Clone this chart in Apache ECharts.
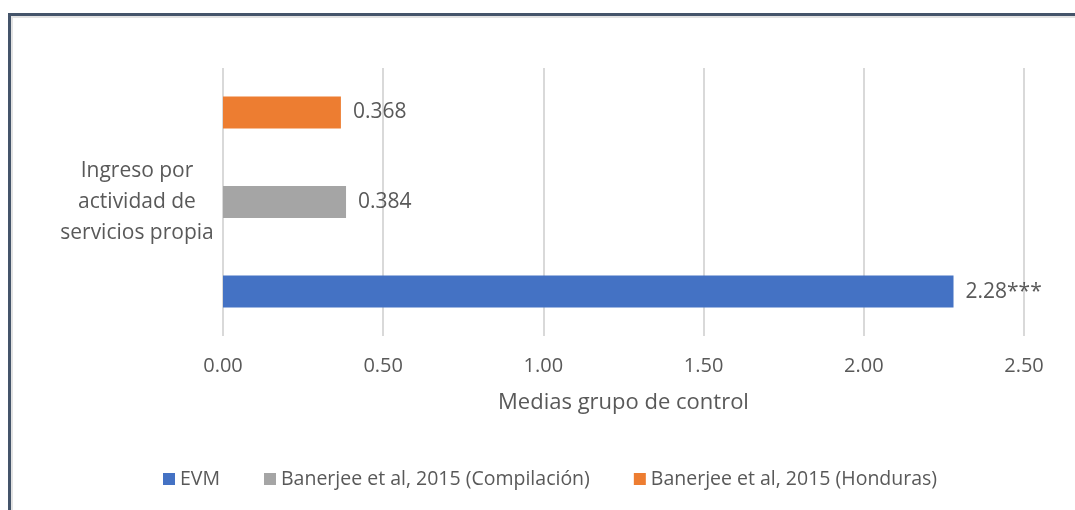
<!DOCTYPE html>
<html>
<head>
<meta charset="utf-8">
<script src="https://cdn.jsdelivr.net/npm/echarts@6/dist/echarts.min.js"></script>
<style>
  html, body { margin: 0; padding: 0; background: #fff; }
  .frame { position: absolute; left: 8px; top: 13px; width: 1100px; height: 520px;
           border-left: 3px solid #44546A; border-top: 3px solid #44546A; }
  .frame-inner { position: absolute; left: 0; top: 0; width: 100%; height: 100%;
           border-left: 2px solid #e3e3e3; border-top: 2px solid #e3e3e3; }
  #chart { position: absolute; left: 0; top: 0; width: 1075px; height: 510px; }
</style>
</head>
<body>
<div class="frame"><div class="frame-inner"></div></div>
<div id="chart"></div>
<script>
  // datos
  var categories = ['Ingreso por\nactividad de\nservicios propia'];
  var seriesNames = ['EVM', 'Banerjee et al, 2015 (Compilación)', 'Banerjee et al, 2015 (Honduras)'];
  var evmValues = [2.28];
  var compilacionValues = [0.384];
  var hondurasValues = [0.368];
  var valueLabels = ['2.28***', '0.384', '0.368'];
  var xTicks = [0, 0.5, 1, 1.5, 2, 2.5];

  var textColor = '#595959';
  var fontFamily = '"Open Sans", "Noto Sans", sans-serif';

  function makeSeries(name, data, color, label) {
    return {
      name: name,
      type: 'bar',
      data: data,
      barWidth: 32,
      barGap: '180%',
      itemStyle: { color: color },
      label: {
        show: true,
        position: 'right',
        distance: 12,
        formatter: function () { return label },
        color: textColor,
        fontSize: 21,
        fontFamily: fontFamily
      }
    }
  }

  var chart = echarts.init(document.getElementById('chart'), null, { renderer: 'canvas' });
  var option = {
    backgroundColor: 'transparent',
    animation: false,
    textStyle: { fontFamily: fontFamily },
    grid: { left: 223, right: 51, top: 68, bottom: 174, containLabel: false },
    legend: {
      data: seriesNames,   // orden de la leyenda
      bottom: 16,
      left: 158,
      icon: 'rect',
      itemWidth: 12,
      itemHeight: 12,
      itemGap: 44,
      textStyle: { color: textColor, fontSize: 19.5, fontFamily: fontFamily }
    },
    xAxis: {
      type: 'value',
      min: xTicks[0],
      max: xTicks[xTicks.length - 1],
      interval: xTicks[1] - xTicks[0],
      name: 'Medias grupo de control',
      nameLocation: 'middle',
      nameGap: 56,
      nameTextStyle: { color: textColor, fontSize: 22, fontFamily: fontFamily },
      axisLine: { show: false },
      axisTick: { show: false },
      axisLabel: {
        color: textColor, fontSize: 20, margin: 20,
        formatter: function (v) { return v.toFixed(2) }
      },
      splitLine: { show: true, lineStyle: { color: '#d9d9d9', width: 2 } }
    },
    yAxis: {
      type: 'category',
      data: categories,
      axisLine: { show: false },
      axisTick: { show: false },
      axisLabel: {
        color: textColor, fontSize: 21, lineHeight: 31,
        align: 'center', margin: 86
      }
    },
    // en barras horizontales la primera serie queda arriba
    series: [
      makeSeries(seriesNames[2], hondurasValues, '#ED7D31', valueLabels[2]),
      makeSeries(seriesNames[1], compilacionValues, '#A5A5A5', valueLabels[1]),
      makeSeries(seriesNames[0], evmValues, '#4472C4', valueLabels[0])
    ]
  };
  chart.setOption(option);
</script>
</body>
</html>
